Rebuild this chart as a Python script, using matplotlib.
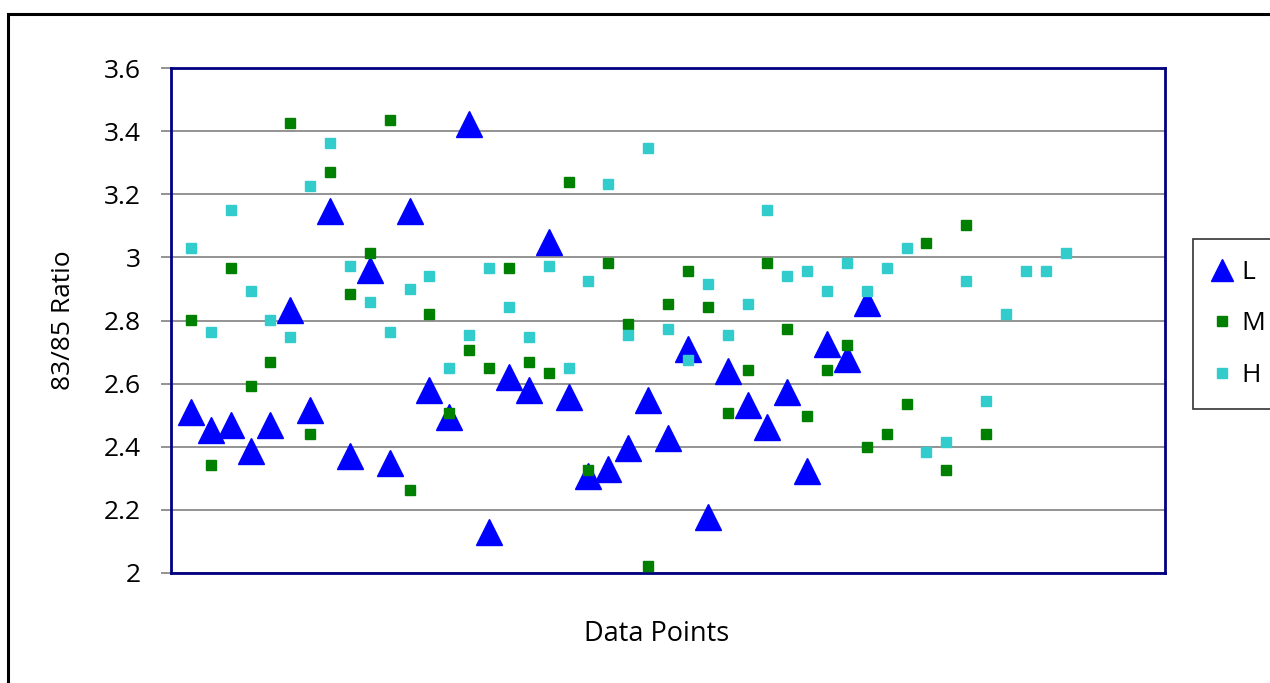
import matplotlib
matplotlib.use("Agg")
import matplotlib.pyplot as plt
from matplotlib.patches import Rectangle
import numpy as np

plt.rcParams['font.family'] = ['Open Sans', 'DejaVu Sans']

low = [2.509, 2.452, 2.469, 2.387, 2.469, 2.832, 2.517, 3.147, 2.371, 2.961,
       2.347, 3.147, 2.580, 2.493, 3.421, 2.130, 2.621, 2.581, 3.050, 2.558,
       2.307, 2.331, 2.396, 2.549, 2.428, 2.711, 2.178, 2.639, 2.533, 2.461,
       2.573, 2.323, 2.727, 2.677, 2.854]
mid = [2.803, 2.343, 2.966, 2.594, 2.667, 3.427, 2.440, 3.272, 2.885, 3.014,
       3.434, 2.263, 2.820, 2.506, 2.706, 2.650, 2.966, 2.667, 2.634, 3.239,
       2.327, 2.981, 2.788, 2.021, 2.852, 2.957, 2.844, 2.506, 2.642, 2.981,
       2.772, 2.497, 2.642, 2.723, 2.400, 2.440, 2.537, 3.045, 2.327, 3.102,
       2.440]
high = [3.030, 2.764, 3.151, 2.893, 2.803, 2.747, 3.225, 3.361, 2.973, 2.860,
        2.764, 2.900, 2.941, 2.650, 2.755, 2.966, 2.844, 2.748, 2.973, 2.650,
        2.925, 3.233, 2.755, 3.345, 2.772, 2.675, 2.917, 2.755, 2.852, 3.151,
        2.941, 2.957, 2.893, 2.981, 2.893, 2.966, 3.030, 2.384, 2.416, 2.925,
        2.545, 2.821, 2.957, 2.957, 3.014]
y_ticks = [2, 2.2, 2.4, 2.6, 2.8, 3, 3.2, 3.4, 3.6]
y_labels = ["2", "2.2", "2.4", "2.6", "2.8", "3", "3.2", "3.4", "3.6"]

W, H = 1270, 683
FS = 19
fig = plt.figure(figsize=(W / 100, H / 100), dpi=100)
ax = fig.add_axes([171 / W, 1 - 573 / H, (1165 - 171) / W, (573 - 68) / H])

ax.plot(np.arange(1, len(low) + 1), low, linestyle='none', marker='^',
        ms=19, color='#0000FF', mec='#0000FF', label='L', zorder=3)
ax.plot(np.arange(1, len(mid) + 1), mid, linestyle='none', marker='s',
        ms=7, color='#008000', mec='#008000', label='M', zorder=4)
ax.plot(np.arange(1, len(high) + 1), high, linestyle='none', marker='s',
        ms=7, color='#33CCCC', mec='#33CCCC', label='H', zorder=5)

ax.set_xlim(0, 50)
ax.set_ylim(2, 3.6)
ax.set_yticks(y_ticks)
ax.set_yticklabels(y_labels)
ax.set_xticks([])
ax.tick_params(axis='y', direction='out', length=7, width=1.2, color='#808080',
               pad=15, labelsize=FS)
ax.grid(axis='y', color='#808080', lw=1.2)
ax.set_axisbelow(True)
for sp in ax.spines.values():
    sp.set_color('#000080')
    sp.set_linewidth(2)

ax.set_ylabel("83/85 Ratio", fontsize=FS)
ax.yaxis.set_label_coords((76 - 171) / 994, 0.5)
ax.set_xlabel("Data Points", fontsize=19.5)
ax.xaxis.set_label_coords((657 - 171) / 994, (573 - 620) / 505)

leg = fig.legend(loc='upper left', bbox_to_anchor=(1193 / W, 1 - 239 / H),
                 frameon=True, fancybox=False, fontsize=FS, labelspacing=1.0,
                 handlelength=0.6, handletextpad=0.45, borderpad=0.8,
                 borderaxespad=0)
leg.get_frame().set_edgecolor('black')
leg.get_frame().set_linewidth(1.2)
leg.legend_handles[0].set_markersize(16)

fig.add_artist(Rectangle((8 / W, -0.1), 2, 1 - 14 / H + 0.1,
                         transform=fig.transFigure, fill=False,
                         edgecolor='black', lw=2.2))

plt.savefig("out.png", dpi=100)
